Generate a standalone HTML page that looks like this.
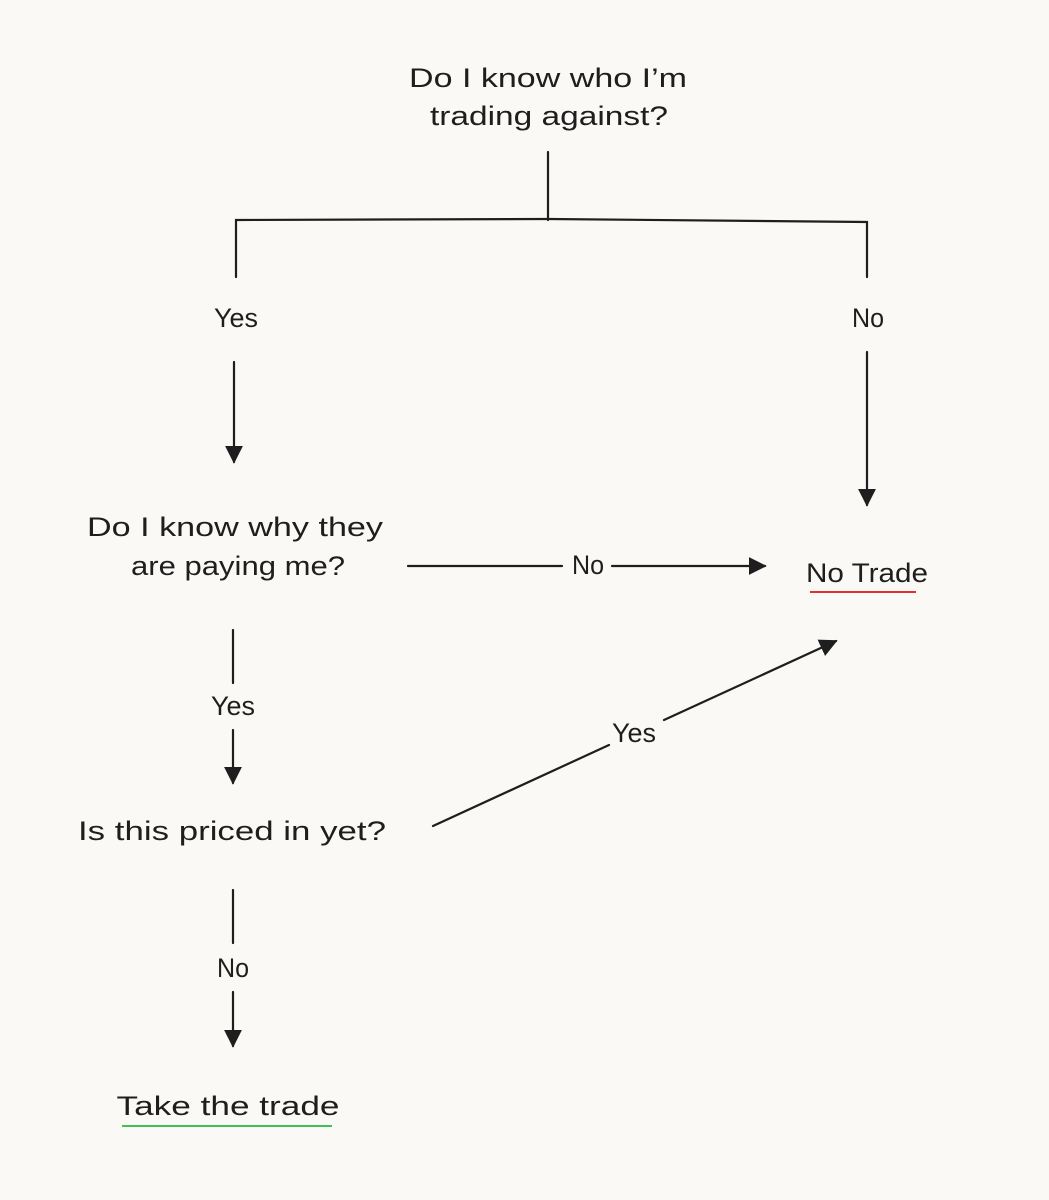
<!DOCTYPE html>
<html><head><meta charset="utf-8"><style>
html,body{margin:0;padding:0;background:#fbf9f5;}
svg{display:block}
text{font-family:"Liberation Sans",sans-serif;font-size:27px;fill:#1e1e1e;text-anchor:middle;}
</style></head><body>
<svg width="1049" height="1200" viewBox="0 0 1049 1200" xmlns="http://www.w3.org/2000/svg">
<defs>
<marker id="ah" viewBox="0 0 10 10" refX="9" refY="5" markerWidth="18" markerHeight="18" markerUnits="userSpaceOnUse" orient="auto">
<path d="M0,0 L10,5 L0,10 z" fill="#1e1e1e"/>
</marker>
</defs>
<rect width="1049" height="1200" fill="#fbf9f5"/>
<g stroke="#1e1e1e" stroke-width="2.2" fill="none" stroke-linecap="round">
<path d="M548,152 L548,220"/>
<path d="M236,277 L236,220 L548,219 L867,222 L867,277"/>
<path d="M234,362 L234,462" marker-end="url(#ah)"/>
<path d="M867,352 L867,505" marker-end="url(#ah)"/>
<path d="M408,566 L562,566 M612,566 L765,566" marker-end="url(#ah)"/>
<path d="M233,630 L233,683"/>
<path d="M233,730 L233,783" marker-end="url(#ah)"/>
<path d="M433,826 L609,745 M664,720 L836,641" marker-end="url(#ah)"/>
<path d="M233,890 L233,943"/>
<path d="M233,992 L233,1046" marker-end="url(#ah)"/>
</g>
<g lengthAdjust="spacingAndGlyphs">
<text x="548" y="87" textLength="278" lengthAdjust="spacingAndGlyphs">Do I know who I’m</text>
<text x="549" y="125" textLength="238" lengthAdjust="spacingAndGlyphs">trading against?</text>
<text x="236" y="327" font-size="24" textLength="44" lengthAdjust="spacingAndGlyphs">Yes</text>
<text x="868" y="327" font-size="24" textLength="32" lengthAdjust="spacingAndGlyphs">No</text>
<text x="235" y="536" textLength="296" lengthAdjust="spacingAndGlyphs">Do I know why they</text>
<text x="238" y="575" textLength="214" lengthAdjust="spacingAndGlyphs">are paying me?</text>
<text x="588" y="574" font-size="24" textLength="32" lengthAdjust="spacingAndGlyphs">No</text>
<text x="867" y="582" textLength="122" lengthAdjust="spacingAndGlyphs">No Trade</text>
<text x="233" y="715" font-size="24" textLength="44" lengthAdjust="spacingAndGlyphs">Yes</text>
<text x="232" y="840" textLength="308" lengthAdjust="spacingAndGlyphs">Is this priced in yet?</text>
<text x="634" y="742" font-size="24" textLength="44" lengthAdjust="spacingAndGlyphs">Yes</text>
<text x="233" y="977" font-size="24" textLength="32" lengthAdjust="spacingAndGlyphs">No</text>
<text x="228" y="1115" textLength="223" lengthAdjust="spacingAndGlyphs">Take the trade</text>
</g>
<line x1="810" y1="592" x2="916" y2="592" stroke="#e03131" stroke-width="2"/>
<line x1="122" y1="1126" x2="332" y2="1126" stroke="#40c057" stroke-width="2"/>
</svg>
</body></html>
